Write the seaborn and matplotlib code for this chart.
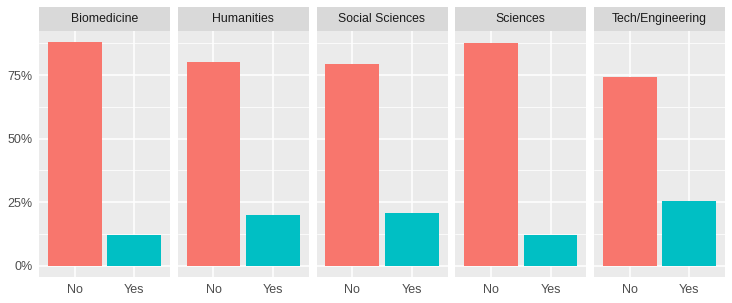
import pandas as pd
import numpy as np
import matplotlib
matplotlib.use('Agg')
import matplotlib.pyplot as plt
import seaborn as sns
from matplotlib.patches import Rectangle
from matplotlib.ticker import FixedLocator, FuncFormatter

# Data (percent of respondents)
fields = ['Biomedicine', 'Humanities', 'Social Sciences', 'Sciences', 'Tech/Engineering']
answers = ['No', 'Yes']
no_pct = [87.8, 80.1, 79.3, 87.7, 74.4]
yes_pct = [12.2, 19.9, 20.7, 12.3, 25.6]
colors = ['#F8766D', '#00BFC4']

rows = []
for f, n, y in zip(fields, no_pct, yes_pct):
    rows.append({'field': f, 'answer': 'No', 'pct': n})
    rows.append({'field': f, 'answer': 'Yes', 'pct': y})
df = pd.DataFrame(rows)

sns.set_style('white')
plt.rcParams['font.family'] = ['Liberation Sans', 'DejaVu Sans']

W, H = 732, 303
fig, axes = plt.subplots(1, 5, figsize=(W / 100, H / 100), dpi=100, sharey=True)
panel_w = (725 - 39 - 4 * 7.75) / 5
fig.subplots_adjust(left=39 / W, right=725 / W, top=1 - 31 / H, bottom=1 - 277 / H,
                    wspace=7.75 / panel_w)

for i, (ax, field) in enumerate(zip(axes, fields)):
    sub = df[df['field'] == field]
    sns.barplot(data=sub, x='answer', y='pct', hue='answer', order=answers,
                hue_order=answers, palette=colors, width=0.9, legend=False,
                saturation=1, linewidth=0, ax=ax)
    ax.set_facecolor('#EBEBEB')
    ax.set_xlim(-0.6, 1.6)
    ax.set_ylim(-4.4, 92.3)
    ax.yaxis.set_major_locator(FixedLocator([0, 25, 50, 75]))
    ax.yaxis.set_minor_locator(FixedLocator([12.5, 37.5, 62.5, 87.5]))
    ax.yaxis.set_major_formatter(FuncFormatter(lambda v, p: f'{v:.0f}%'))
    ax.grid(True, which='major', color='white', linewidth=1.1)
    ax.grid(True, which='minor', axis='y', color='white', linewidth=0.55)
    ax.set_axisbelow(True)
    for s in ax.spines.values():
        s.set_visible(False)
    ax.set_xlabel('')
    ax.set_ylabel('')
    ax.tick_params(axis='both', which='major', length=2.7, width=0.8, color='#333333',
                   labelcolor='#4D4D4D', labelsize=9, pad=2)
    ax.tick_params(axis='y', which='minor', length=0)
    if i > 0:
        ax.tick_params(axis='y', which='major', length=0, labelleft=False)
    # facet strip
    strip_h = 24 / 246
    ax.add_patch(Rectangle((0, 1), 1, strip_h, transform=ax.transAxes,
                           facecolor='#D9D9D9', edgecolor='none', clip_on=False))
    ax.text(0.5, 1 + strip_h / 2, field, transform=ax.transAxes, ha='center',
            va='center', fontsize=8.8, color='#1A1A1A')

fig.savefig('out.png', dpi=100)
